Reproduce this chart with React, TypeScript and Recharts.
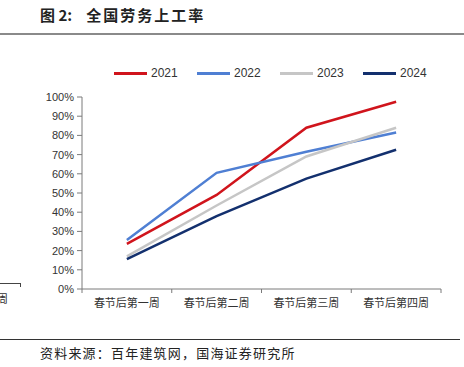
import { LineChart, Line, XAxis, YAxis } from 'recharts';

const weeks = ['春节后第一周', '春节后第二周', '春节后第三周', '春节后第四周'];
const s2021 = [23.5, 49, 84, 97.5];
const s2022 = [25.5, 60.5, 71.5, 81.5];
const s2023 = [17, 43.5, 69, 84];
const s2024 = [15.5, 38, 57.5, 72.5];
const yTicks = [0, 10, 20, 30, 40, 50, 60, 70, 80, 90, 100];

const series = [
  { key: 'y2021', name: '2021', color: '#d0141c', values: s2021 },
  { key: 'y2022', name: '2022', color: '#4f7fd3', values: s2022 },
  { key: 'y2023', name: '2023', color: '#c6c6c6', values: s2023 },
  { key: 'y2024', name: '2024', color: '#13306e', values: s2024 },
];

const data = weeks.map((w, i) => {
  const row: any = { week: w };
  series.forEach((s) => { row[s.key] = s.values[i]; });
  return row;
});

const font = "'Liberation Sans', Arial, 'Noto Sans CJK SC', sans-serif";
const axisColor = '#7a7a7a';

function WeekTick(props: any) {
  const { x, y, payload, index } = props;
  const half = payload.offset || 45;
  const top = y - 10;
  return (
    <g>
      <line x1={x - half} y1={top} x2={x - half} y2={top + 4} stroke={axisColor} strokeWidth={1} />
      {index === weeks.length - 1 && (
        <line x1={x + half} y1={top} x2={x + half} y2={top + 4} stroke={axisColor} strokeWidth={1} />
      )}
      <text x={x} y={y} dy="0.71em" textAnchor="middle" fontSize={11} fill="#333" fontFamily={font}>
        {payload.value}
      </text>
    </g>
  );
}

export default function App() {
  return (
    <div style={{ position: 'absolute', left: 0, top: 0, width: 464, height: 367, background: '#fff', overflow: 'hidden', fontFamily: font }}>
      <div style={{ position: 'absolute', left: 40, top: 4, fontSize: 15, fontWeight: 'bold', color: '#222', fontFamily: "'Noto Sans CJK SC', sans-serif", whiteSpace: 'nowrap' }}>
        <span>图 2:</span>
        <span style={{ marginLeft: 14, letterSpacing: 2 }}>全国劳务上工率</span>
      </div>
      <div style={{ position: 'absolute', left: 0, top: 33, width: 464, height: 2, background: '#8a8a8a' }} />

      <div style={{ position: 'absolute', left: 114, top: 66, display: 'flex', fontSize: 12, color: '#333', whiteSpace: 'nowrap' }}>
        {series.map((s) => (
          <div key={s.key} style={{ display: 'flex', alignItems: 'center', width: 83 }}>
            <div style={{ width: 33, height: 3, background: s.color, marginRight: 4 }} />
            <span>{s.name}</span>
          </div>
        ))}
      </div>

      <div style={{ position: 'absolute', left: 0, top: 0 }}>
        <LineChart width={464} height={367} data={data} margin={{ top: 97, right: 23, bottom: 48, left: 22 }}>
          <XAxis
            dataKey="week"
            scale="band"
            height={30}
            stroke={axisColor}
            tickLine={false}
            tickSize={4}
            tickMargin={6}
            interval={0}
            tick={<WeekTick />}
          />
          <YAxis
            width={60}
            domain={[0, 100]}
            ticks={yTicks}
            interval={0}
            stroke={axisColor}
            tickSize={5}
            tickMargin={3}
            tick={{ fontSize: 11, fill: '#333', fontFamily: font }}
            tickFormatter={(v) => `${v}%`}
          />
          {series.map((s) => (
            <Line
              key={s.key}
              dataKey={s.key}
              name={s.name}
              type="linear"
              stroke={s.color}
              strokeWidth={2.5}
              dot={false}
              isAnimationActive={false}
            />
          ))}
        </LineChart>
      </div>

      <div style={{ position: 'absolute', left: 0, top: 283, width: 20, height: 3, borderTop: '1px solid #444', borderRight: '1px solid #444' }} />
      <div style={{ position: 'absolute', left: -3, top: 290, fontSize: 11, color: '#333', fontFamily: "'Noto Sans CJK SC', sans-serif" }}>周</div>

      <div style={{ position: 'absolute', left: 0, top: 339, width: 460, height: 1, background: '#333' }} />
      <div style={{ position: 'absolute', left: 40, top: 343, fontSize: 13, letterSpacing: 1.2, color: '#222', fontFamily: "'Noto Sans CJK SC', serif", whiteSpace: 'nowrap' }}>
        资料来源：百年建筑网，国海证券研究所
      </div>
    </div>
  );
}
